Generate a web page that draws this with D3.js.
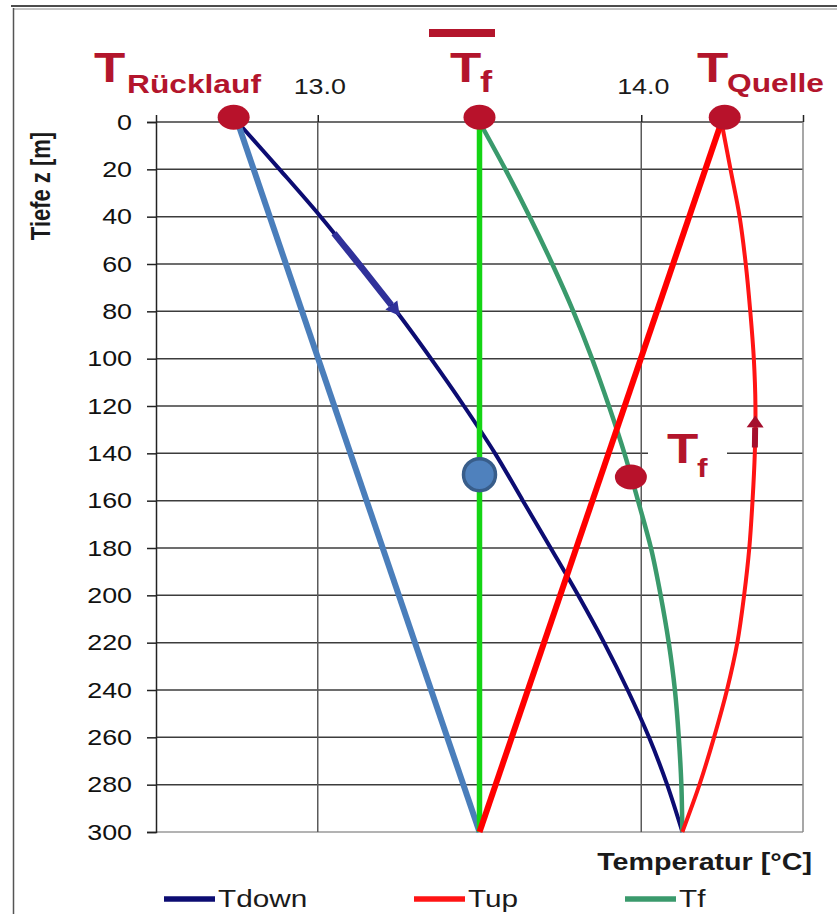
<!DOCTYPE html>
<html>
<head>
<meta charset="utf-8">
<script src="https://cdn.jsdelivr.net/npm/d3@7"></script>
<style>
  html, body { margin: 0; padding: 0; background: #fff; }
  svg { display: block; }
</style>
</head>
<body>
<svg id="chart" width="837" height="914"></svg>
<script>
// Depth levels of the borehole heat exchanger (m)
const depths = [0, 20, 40, 60, 80, 100, 120, 140, 160, 180, 200, 220, 240, 260, 280, 300];
// Fluid temperature in the down pipe (°C)
const tDown = [12.752, 12.882, 13.009, 13.127, 13.243, 13.350, 13.452, 13.548, 13.634, 13.720, 13.805, 13.885, 13.958, 14.024, 14.080, 14.127];
// Fluid temperature in the up pipe (°C)
const tUp = [14.248, 14.276, 14.304, 14.323, 14.337, 14.348, 14.353, 14.351, 14.344, 14.334, 14.318, 14.297, 14.265, 14.225, 14.180, 14.127];
// Mean fluid temperature (°C)
const tFluid = [13.500, 13.580, 13.655, 13.725, 13.790, 13.848, 13.900, 13.948, 13.990, 14.030, 14.060, 14.085, 14.104, 14.116, 14.124, 14.127];

// Linear simplification lines: return -> bottom, bottom -> source, constant mean
const linReturnT = [12.752, 13.5];
const linSourceT = [14.248, 13.5];
const linMeanT = [13.5, 13.5];
const linZ = [0, 300];

// Marked temperatures: T_Rücklauf, mean T_f, T_Quelle, T_f at mid depth
const markerT = [12.740, 13.500, 14.258, 13.968];
const markerZ = [-2, -2, -2, 150];
// Mean temperature marker at mid depth
const meanMarkerT = [13.5];
const meanMarkerZ = [149];

// Flow direction arrows (depth ranges: shaft start, head tip)
const arrowDownZ = [47, 82];
const arrowUpZ = [137.5, 124];

// Axis ticks
const xTicks = [12.5, 13.0, 13.5, 14.0, 14.5];
const xTickLabels = ["", "13.0", "", "14.0", ""];
const yTicks = [0, 20, 40, 60, 80, 100, 120, 140, 160, 180, 200, 220, 240, 260, 280, 300];

// Legend
const seriesNames = ["Tdown", "Tup", "Tf"];
const seriesColors = ["#0c0c72", "#ff1414", "#3a9a6c"];

const labelRed = "#b3152c";
const SX = 1.22; // horizontal text stretch

const svg = d3.select("#chart");
svg.append("rect").attr("width", 837).attr("height", 914).attr("fill", "#fff");

// Frame
svg.append("line").attr("x1", 11).attr("x2", 837).attr("y1", 6).attr("y2", 6)
  .attr("stroke", "#111").attr("stroke-width", 1.6);
svg.append("line").attr("x1", 13).attr("x2", 837).attr("y1", 9).attr("y2", 9)
  .attr("stroke", "#8a8a8a").attr("stroke-width", 1);
svg.append("line").attr("x1", 13.5).attr("x2", 13.5).attr("y1", 8).attr("y2", 914)
  .attr("stroke", "#555").attr("stroke-width", 1.5);

const x = d3.scaleLinear().domain([12.5, 14.5]).range([156, 803]);
const y = d3.scaleLinear().domain([0, 300]).range([122, 832]);

function stretchedText(parent, px, py, str, o) {
  const g = parent.append("g")
    .attr("transform", `translate(${px},${py}) scale(${o.sx || SX},1)`);
  return g.append("text")
    .attr("x", 0).attr("y", 0)
    .attr("text-anchor", o.anchor || "start")
    .attr("font-family", "'Liberation Sans', Arial, sans-serif")
    .attr("font-size", o.size)
    .attr("font-weight", o.weight || "normal")
    .attr("fill", o.fill || "#1a1a1a")
    .text(str);
}

// Grid
const grid = svg.append("g");
grid.selectAll("line.h").data(yTicks).join("line")
  .attr("x1", x(12.5)).attr("x2", x(14.5))
  .attr("y1", d => y(d)).attr("y2", d => y(d))
  .attr("stroke", d => d === 300 ? "#9a9a9a" : "#3c3c3c")
  .attr("stroke-width", 1.5);
grid.selectAll("line.v").data(xTicks.slice(1)).join("line")
  .attr("x1", d => x(d)).attr("x2", d => x(d))
  .attr("y1", y(0)).attr("y2", y(300))
  .attr("stroke", d => d === 14.5 ? "#8a8a8a" : "#5a5a5a")
  .attr("stroke-width", 1.5);

// Y axis (depth)
const yAxis = svg.append("g").attr("transform", `translate(${x(12.5)},0)`)
  .call(d3.axisLeft(y).tickValues(yTicks).tickSize(9).tickPadding(15));
yAxis.select(".domain").attr("stroke", "#222").attr("stroke-width", 1.5);
yAxis.selectAll(".tick line").attr("stroke", "#222").attr("stroke-width", 1.5);
yAxis.selectAll(".tick text")
  .attr("font-family", "'Liberation Sans', Arial, sans-serif")
  .attr("font-size", 22).attr("fill", "#111")
  .each(function () {
    const t = d3.select(this);
    const tx = +t.attr("x");
    t.attr("x", 0).attr("transform", `translate(${tx},0) scale(${SX},1)`);
  });

// X axis (temperature) on top
const xAxis = svg.append("g").attr("transform", `translate(0,${y(0)})`)
  .call(d3.axisTop(x).tickValues(xTicks).tickSize(7).tickFormat(() => ""));
xAxis.select(".domain").remove();
xAxis.selectAll(".tick line").attr("stroke", "#222").attr("stroke-width", 1.5);
xTicks.forEach((t, i) => {
  if (xTickLabels[i]) stretchedText(svg, x(t) + 2, 94, xTickLabels[i], { size: 22, anchor: "middle" });
});

// Curves
const toPts = (ts, zs) => ts.map((t, i) => ({ t, z: zs[i] }));
const curve = d3.line().x(d => x(d.t)).y(d => y(d.z)).curve(d3.curveCatmullRom.alpha(0.5));
const straight = d3.line().x(d => x(d.t)).y(d => y(d.z));

const plot = svg.append("g").attr("fill", "none").attr("stroke-linecap", "butt");
plot.append("path").attr("d", curve(toPts(tDown, depths)))
  .attr("stroke", seriesColors[0]).attr("stroke-width", 4);
plot.append("path").attr("d", curve(toPts(tFluid, depths)))
  .attr("stroke", seriesColors[2]).attr("stroke-width", 4.5);
plot.append("path").attr("d", curve(toPts(tUp, depths)))
  .attr("stroke", seriesColors[1]).attr("stroke-width", 4);
plot.append("path").attr("d", straight(toPts(linReturnT, linZ)))
  .attr("stroke", "#4a7ebb").attr("stroke-width", 6);
plot.append("path").attr("d", straight(toPts(linMeanT, linZ)))
  .attr("stroke", "#14d414").attr("stroke-width", 5.5);
plot.append("path").attr("d", straight(toPts(linSourceT, linZ)))
  .attr("stroke", "#ff0000").attr("stroke-width", 6);

// Flow arrows along the pipe curves
function drawArrow(ts, zRange, color, shaftW, headL, headW) {
  const tAt = d3.scaleLinear().domain(depths).range(ts);
  const dir = Math.sign(zRange[1] - zRange[0]);
  const tip = [x(tAt(zRange[1])), y(zRange[1])];
  const back = [x(tAt(zRange[1] - dir * 4)), y(zRange[1] - dir * 4)];
  let ux = tip[0] - back[0], uy = tip[1] - back[1];
  const len = Math.hypot(ux, uy); ux /= len; uy /= len;
  const bx = tip[0] - ux * headL, by = tip[1] - uy * headL;
  const nx = -uy, ny = ux;
  const zStart = zRange[0];
  const zBase = y.invert(by);
  const n = 12;
  const shaft = d3.range(n + 1).map(i => {
    const z = zStart + (zBase - zStart) * i / n;
    return { t: tAt(z), z };
  });
  svg.append("path").attr("d", straight(shaft)).attr("fill", "none")
    .attr("stroke", color).attr("stroke-width", shaftW);
  svg.append("path")
    .attr("d", `M${tip[0]},${tip[1]}L${bx + nx * headW / 2},${by + ny * headW / 2}L${bx - nx * headW / 2},${by - ny * headW / 2}Z`)
    .attr("fill", color);
}
drawArrow(tDown, arrowDownZ, "#30319a", 6.5, 14, 15);
drawArrow(tUp, arrowUpZ, "#a50f2d", 6, 12, 17);

// Temperature markers
svg.selectAll("ellipse.mk").data(toPts(markerT, markerZ)).join("ellipse")
  .attr("cx", d => x(d.t)).attr("cy", d => y(d.z))
  .attr("rx", 16).attr("ry", 12.5).attr("fill", "#b8122b");
svg.selectAll("circle.mean").data(toPts(meanMarkerT, meanMarkerZ)).join("circle")
  .attr("cx", d => x(d.t)).attr("cy", d => y(d.z))
  .attr("r", 16).attr("fill", "#4f81bd").attr("stroke", "#385d8a").attr("stroke-width", 3.5);

// Labels
const lbl = svg.append("g");
stretchedText(lbl, 94, 82, "T", { size: 42, weight: "bold", fill: labelRed });
stretchedText(lbl, 127, 93, "Rücklauf", { size: 26, weight: "bold", fill: labelRed });

lbl.append("rect").attr("x", 429).attr("y", 29).attr("width", 66).attr("height", 8).attr("fill", labelRed);
stretchedText(lbl, 450, 82, "T", { size: 42, weight: "bold", fill: labelRed });
stretchedText(lbl, 480, 92, "f", { size: 30, weight: "bold", fill: labelRed });

stretchedText(lbl, 697, 82, "T", { size: 42, weight: "bold", fill: labelRed });
stretchedText(lbl, 727, 92, "Quelle", { size: 26, weight: "bold", fill: labelRed });

lbl.append("rect").attr("x", 648).attr("y", 418).attr("width", 79).attr("height", 70).attr("fill", "#fff");
stretchedText(lbl, 667, 463, "T", { size: 42, weight: "bold", fill: labelRed });
stretchedText(lbl, 697, 477, "f", { size: 26, weight: "bold", fill: labelRed });

// Axis titles
svg.append("text")
  .attr("transform", "translate(50,186) rotate(-90) scale(1,1.22)")
  .attr("text-anchor", "middle")
  .attr("font-family", "'Liberation Sans', Arial, sans-serif")
  .attr("font-size", 22).attr("font-weight", "bold").attr("fill", "#1a1a1a")
  .text("Tiefe z [m]");
stretchedText(svg, 812, 870, "Temperatur [°C]", { size: 23.5, weight: "bold", anchor: "end" });

// Legend
const legendX = [164, 414, 625];
const leg = svg.append("g");
seriesNames.forEach((name, i) => {
  leg.append("line").attr("x1", legendX[i]).attr("x2", legendX[i] + 51)
    .attr("y1", 899).attr("y2", 899)
    .attr("stroke", seriesColors[i]).attr("stroke-width", 5.5);
  stretchedText(leg, legendX[i] + 54, 907, name, { size: 24, sx: 1.24 });
});
</script>
</body>
</html>
